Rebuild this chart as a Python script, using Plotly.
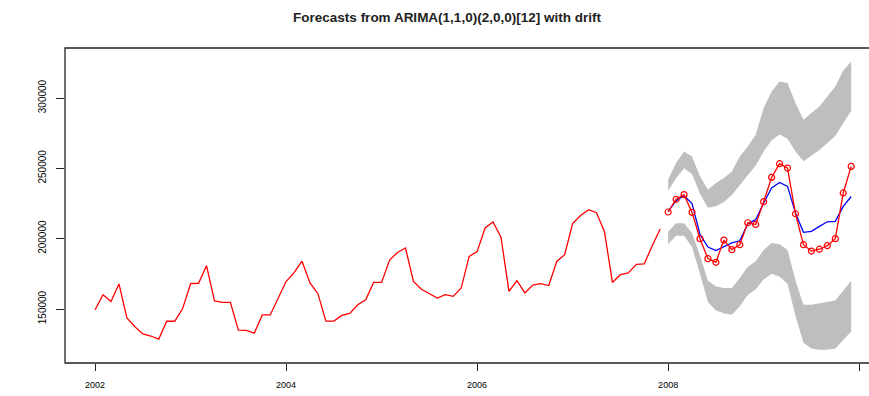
import plotly.graph_objects as go

# Monthly series, Jan 2002 - Dec 2007 (fitting window)
start_year = 2002
history = [
    149500, 160200, 155400, 167800, 143600, 137400, 132300, 130800, 128600, 141300, 141300, 150300,
    168000, 168300, 180800, 155700, 154700, 154700, 135000, 134800, 132800, 145800, 145800, 157500,
    169500, 175800, 184000, 168500, 160900, 141400, 141400, 145400, 146900, 153000, 156500, 168900,
    168900, 184800, 190200, 193400, 169600, 164000, 160900, 157800, 160200, 159000, 164900, 187400,
    190800, 207600, 211800, 201000, 162500, 170100, 161400, 167000, 168000, 166700, 183800, 188600,
    210800, 216400, 220600, 218500, 204900, 168900, 174400, 175600, 181800, 182100, 195000, 206900,
]

# Forecast horizon, Jan 2008 - Dec 2009
fc_year = 2008
fc_mean = [
    219400, 227000, 230500, 225000, 203000, 194000, 191500, 194500, 197000, 198500, 210400, 213500,
    225400, 236000, 240000, 237200, 218200, 204500, 205200, 208700, 212000, 212300, 222900, 230000,
]
upper80 = [
    234000, 243000, 250000, 246000, 232000, 222000, 223000, 226000, 231000, 238000, 245000, 252000,
    262000, 270000, 274000, 271000, 262000, 255000, 259000, 263000, 268000, 273000, 282000, 291000,
]
upper95 = [
    241900, 253800, 262000, 258500, 244300, 234800, 239600, 243100, 247800, 258500, 265600, 273900,
    292900, 304700, 311800, 310700, 296400, 284600, 289300, 294000, 301100, 308200, 319600, 326000,
]
lower80 = [
    205000, 211000, 211000, 204000, 188000, 170000, 166000, 165000, 165000, 172000, 180000, 184000,
    192000, 197000, 196000, 192000, 170000, 153000, 153000, 154000, 155000, 156000, 163000, 170000,
]
lower95 = [
    196000, 202000, 202000, 194000, 175000, 155000, 149000, 147000, 146000, 152000, 160000, 164000,
    171000, 175000, 173000, 168000, 145000, 126000, 122000, 121000, 121000, 122000, 128000, 134000,
]
# Observed values over the forecast horizon
actual = [
    218960, 228000, 231300, 218700, 200000, 185800, 183200, 199000, 192200, 195700, 211300, 210100,
    226300, 243600, 253300, 250200, 217700, 195700, 191200, 192500, 195000, 200000, 232500, 251400,
]

y_ticks = [150000, 200000, 250000, 300000]
x_ticks = [2002, 2004, 2006, 2008, 2010]

t_hist = [start_year + i / 12 for i in range(len(history))]
t_fc = [fc_year + i / 12 for i in range(len(fc_mean))]

GREY = "#BEBEBE"

fig = go.Figure()

# upper shaded band (80% -> 95%)
fig.add_trace(go.Scatter(x=t_fc, y=upper80, mode="lines", line=dict(width=0, color=GREY),
                         hoverinfo="skip", showlegend=False))
fig.add_trace(go.Scatter(x=t_fc, y=upper95, mode="lines", line=dict(width=0, color=GREY),
                         fill="tonexty", fillcolor=GREY, hoverinfo="skip", showlegend=False))
# lower shaded band (95% -> 80%)
fig.add_trace(go.Scatter(x=t_fc, y=lower95, mode="lines", line=dict(width=0, color=GREY),
                         hoverinfo="skip", showlegend=False))
fig.add_trace(go.Scatter(x=t_fc, y=lower80, mode="lines", line=dict(width=0, color=GREY),
                         fill="tonexty", fillcolor=GREY, hoverinfo="skip", showlegend=False))

# history
fig.add_trace(go.Scatter(x=t_hist, y=history, mode="lines",
                         line=dict(color="#FF0000", width=1.3), showlegend=False))
# point forecast
fig.add_trace(go.Scatter(x=t_fc, y=fc_mean, mode="lines",
                         line=dict(color="#0000FF", width=1.3), showlegend=False))
# observed test values
fig.add_trace(go.Scatter(x=t_fc, y=actual, mode="lines+markers",
                         line=dict(color="#FF0000", width=1.3),
                         marker=dict(symbol="circle-open", size=6, color="#FF0000",
                                     line=dict(width=1.2, color="#FF0000")),
                         showlegend=False))

# box around the plotting region (right side runs past the page edge)
fig.add_shape(type="rect", xref="paper", yref="paper", x0=0, x1=1.05, y0=0, y1=1,
              line=dict(color="#222222", width=1.3), fillcolor="rgba(0,0,0,0)", layer="above")

fig.update_layout(
    width=869, height=396,
    margin=dict(l=65, r=0, t=48, b=33),
    paper_bgcolor="white", plot_bgcolor="white",
    font=dict(family="Liberation Sans, Arial, sans-serif", color="black"),
    title=dict(text="<b>Forecasts from ARIMA(1,1,0)(2,0,0)[12] with drift</b>",
               x=447 / 869, xref="container", xanchor="center",
               y=1 - 17 / 396, yref="container", yanchor="middle",
               font=dict(size=13.5, color="#222222")),
    xaxis=dict(range=[2001.685, 2010.103], showgrid=False, zeroline=False, showline=False,
               tickmode="array", tickvals=x_ticks, ticktext=[str(v) for v in x_ticks],
               ticks="outside", ticklen=7, tickwidth=1, tickcolor="#222222",
               tickfont=dict(size=9), ticklabelstandoff=6),
    yaxis=dict(range=[111610, 335550], showgrid=False, zeroline=False, showline=False,
               tickmode="array", tickvals=y_ticks, ticktext=[str(v) for v in y_ticks],
               tickangle=-90, ticks="outside", ticklen=8, tickwidth=1, tickcolor="#222222",
               tickfont=dict(size=10), ticklabelstandoff=6),
)

fig.write_html("out.html")
